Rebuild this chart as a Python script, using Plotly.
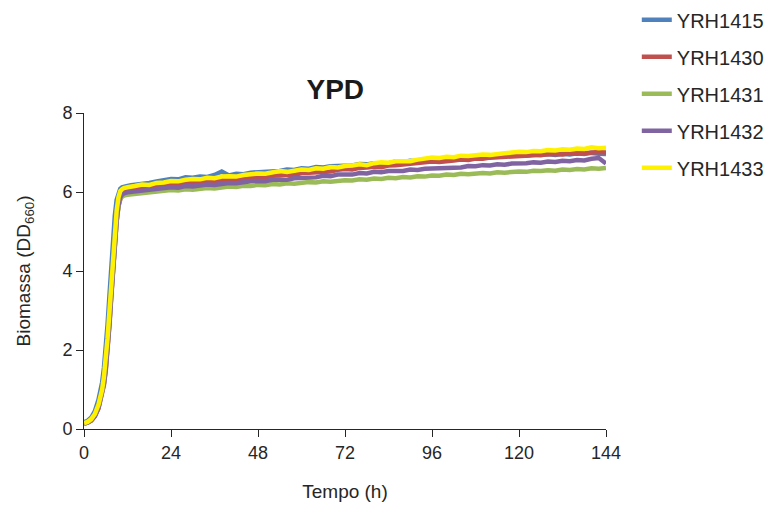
#%% Data ----------------------------------------------------------------------

import plotly.graph_objects as go

# time points (h): dense during the growth phase, every 2 h on the plateau
t_rise = [0, 1, 2, 3, 4, 5, 5.5, 6, 6.5, 7, 7.5, 8, 8.5, 9, 9.5, 10, 10.5, 11, 12, 13, 14]
t_plateau = list(range(16, 145, 2))
tempo = t_rise + t_plateau

strains = ['YRH1415', 'YRH1430', 'YRH1431', 'YRH1432', 'YRH1433']

yrh1415 = [0.17, 0.21, 0.29, 0.45, 0.74, 1.18, 1.55, 2.02, 2.65, 3.35, 4.10, 4.80, 5.40, 5.80, 6.00, 6.08, 6.12, 6.14, 6.15, 6.17, 6.18,
           6.22, 6.23, 6.27, 6.29, 6.33,
           6.32, 6.37, 6.36, 6.39, 6.38, 6.43, 6.52, 6.42, 6.46, 6.45, 6.49, 6.50,
           6.51, 6.54, 6.53, 6.57, 6.56, 6.60, 6.59, 6.63, 6.62, 6.65, 6.66, 6.68,
           6.67, 6.71, 6.70, 6.73, 6.74, 6.73, 6.77, 6.76, 6.79, 6.78, 6.81, 6.82,
           6.81, 6.84, 6.85, 6.84, 6.87, 6.86, 6.89, 6.88, 6.91, 6.90, 6.92, 6.93,
           6.92, 6.95, 6.93, 6.96, 6.94, 6.97, 6.95, 6.98, 6.96, 6.99, 6.97, 6.96]

yrh1430 = [0.14, 0.16, 0.21, 0.32, 0.52, 0.85, 1.12, 1.48, 1.98, 2.60, 3.30, 4.00, 4.68, 5.25, 5.65, 5.88, 5.97, 6.01, 6.04, 6.05, 6.07,
           6.10, 6.12, 6.14, 6.17, 6.20,
           6.19, 6.23, 6.22, 6.26, 6.27, 6.26, 6.30, 6.31, 6.33, 6.32, 6.36, 6.38,
           6.37, 6.41, 6.42, 6.44, 6.43, 6.48, 6.49, 6.50, 6.53, 6.52, 6.56, 6.58,
           6.57, 6.61, 6.62, 6.64, 6.63, 6.67, 6.68, 6.70, 6.71, 6.72, 6.75, 6.77,
           6.76, 6.79, 6.80, 6.82, 6.81, 6.85, 6.84, 6.87, 6.88, 6.89, 6.91, 6.92,
           6.91, 6.94, 6.93, 6.95, 6.96, 6.95, 6.98, 6.97, 6.99, 7.00, 7.01, 7.00]

yrh1431 = [0.14, 0.16, 0.22, 0.34, 0.56, 0.90, 1.17, 1.55, 2.05, 2.68, 3.38, 4.08, 4.72, 5.25, 5.62, 5.82, 5.88, 5.91, 5.93, 5.94, 5.95,
           5.97, 5.99, 6.00, 6.03, 6.05,
           6.04, 6.07, 6.06, 6.09, 6.10, 6.09, 6.12, 6.14, 6.13, 6.16, 6.15, 6.18,
           6.17, 6.20, 6.19, 6.22, 6.21, 6.24, 6.25, 6.24, 6.27, 6.26, 6.29, 6.30,
           6.29, 6.32, 6.31, 6.34, 6.33, 6.36, 6.35, 6.38, 6.37, 6.40, 6.39, 6.42,
           6.41, 6.44, 6.43, 6.46, 6.45, 6.47, 6.48, 6.47, 6.50, 6.49, 6.51, 6.52,
           6.51, 6.54, 6.53, 6.55, 6.54, 6.57, 6.56, 6.58, 6.57, 6.60, 6.59, 6.61]

yrh1432 = [0.14, 0.16, 0.22, 0.33, 0.54, 0.88, 1.15, 1.52, 2.02, 2.65, 3.35, 4.05, 4.72, 5.28, 5.66, 5.86, 5.93, 5.97, 5.99, 6.00, 6.00,
           6.03, 6.05, 6.07, 6.10, 6.12,
           6.11, 6.15, 6.14, 6.17, 6.19, 6.18, 6.21, 6.23, 6.22, 6.25, 6.27, 6.28,
           6.27, 6.31, 6.32, 6.31, 6.35, 6.36, 6.38, 6.37, 6.41, 6.40, 6.44, 6.45,
           6.44, 6.48, 6.47, 6.51, 6.50, 6.53, 6.54, 6.53, 6.57, 6.56, 6.59, 6.60,
           6.59, 6.62, 6.63, 6.62, 6.66, 6.65, 6.68, 6.67, 6.70, 6.69, 6.72, 6.72,
           6.73, 6.75, 6.74, 6.77, 6.76, 6.79, 6.78, 6.81, 6.80, 6.84, 6.86, 6.72]

yrh1433 = [0.15, 0.18, 0.25, 0.38, 0.62, 1.00, 1.32, 1.74, 2.30, 2.95, 3.65, 4.38, 5.02, 5.52, 5.86, 6.02, 6.07, 6.10, 6.12, 6.13, 6.15,
           6.19, 6.18, 6.23, 6.24, 6.28,
           6.27, 6.31, 6.33, 6.32, 6.36, 6.35, 6.39, 6.40, 6.39, 6.43, 6.45, 6.47,
           6.46, 6.50, 6.53, 6.51, 6.55, 6.57, 6.56, 6.60, 6.59, 6.63, 6.62, 6.66,
           6.67, 6.70, 6.68, 6.73, 6.75, 6.74, 6.78, 6.79, 6.78, 6.82, 6.84, 6.87,
           6.86, 6.89, 6.88, 6.92, 6.91, 6.94, 6.95, 6.94, 6.97, 6.98, 7.00, 7.02,
           7.01, 7.04, 7.03, 7.06, 7.05, 7.08, 7.07, 7.10, 7.09, 7.13, 7.11, 7.12]

series = [yrh1415, yrh1430, yrh1431, yrh1432, yrh1433]
colors = ['#4F81BD', '#C0504D', '#9BBB59', '#8064A2', '#FFF200']

x_ticks = [0, 24, 48, 72, 96, 120, 144]
y_ticks = [0, 2, 4, 6, 8]

#%% Plot ----------------------------------------------------------------------

FONT = 'Liberation Sans, Arial, sans-serif'

fig = go.Figure()

for name, vals, col in zip(strains, series, colors):
    fig.add_trace(go.Scatter(
        x=tempo, y=vals, name=name, mode='lines',
        line=dict(color=col, width=4.5),
        legendgroup=name,
    ))

# page body has an 8px default margin, so the figure is a bit smaller than the window
fig.update_layout(
    width=770, height=499,
    margin=dict(l=76, r=172, t=105, b=78, autoexpand=False),
    plot_bgcolor='white', paper_bgcolor='white',
    font=dict(family=FONT, color='#262626'),
    title=dict(text='<b>YPD</b>', font=dict(size=28, color='#1a1a1a'),
               xref='container', yref='container', x=0.425, y=0.838,
               xanchor='center', yanchor='middle'),
    legend=dict(xref='paper', yref='paper', x=1.059, y=1.357,
                xanchor='left', yanchor='top', font=dict(size=20, color='#262626'),
                tracegroupgap=8, bgcolor='rgba(0,0,0,0)'),
    showlegend=True,
)

fig.update_xaxes(
    range=[0, 144], tickvals=x_ticks, showgrid=False, zeroline=False,
    showline=True, linecolor='#262626', linewidth=1, automargin=False,
    ticks='outside', ticklen=7, tickcolor='#262626',
    tickfont=dict(size=18, color='#262626'),
    title=dict(text='Tempo (h)', font=dict(size=19), standoff=23),
)
fig.update_yaxes(
    range=[0, 8], tickvals=y_ticks, showgrid=False, zeroline=False,
    showline=True, linecolor='#262626', linewidth=1, automargin=False,
    ticks='outside', ticklen=7, tickcolor='#262626',
    tickfont=dict(size=18, color='#262626'),
    title=dict(text='Biomassa (DD<sub>660</sub>)', font=dict(size=19), standoff=26),
)

fig.write_html("out.html")
